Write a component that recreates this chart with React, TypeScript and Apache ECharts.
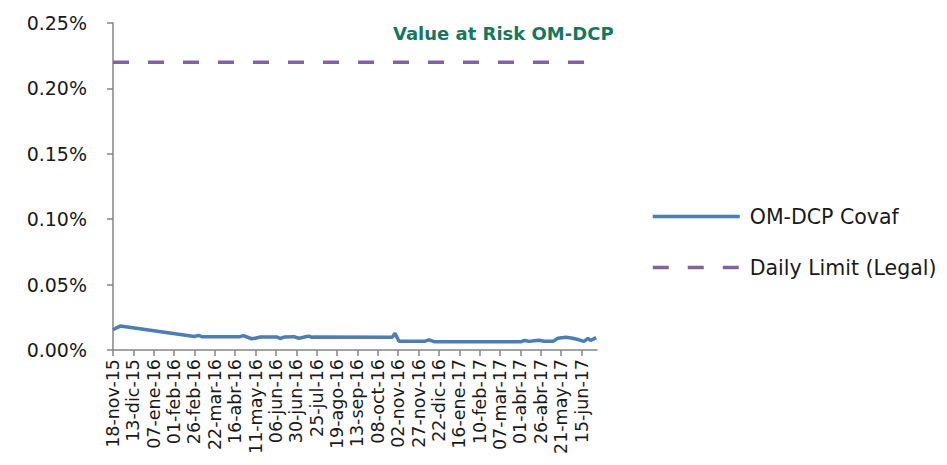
import React, { useEffect, useRef } from "react";
import * as echarts from "echarts";

const startDate = "2015-11-18";
const endDate = "2017-07-04";

const xTickLabels = [
  "18-nov-15", "13-dic-15", "07-ene-16", "01-feb-16", "26-feb-16", "22-mar-16",
  "16-abr-16", "11-may-16", "06-jun-16", "30-jun-16", "25-jul-16", "19-ago-16",
  "13-sep-16", "08-oct-16", "02-nov-16", "27-nov-16", "22-dic-16", "16-ene-17",
  "10-feb-17", "07-mar-17", "01-abr-17", "26-abr-17", "21-may-17", "15-jun-17",
];

const covafDates = [
  "2015-11-18", "2015-11-21", "2015-11-27", "2016-02-26", "2016-03-02", "2016-03-06",
  "2016-04-22", "2016-04-26", "2016-05-06", "2016-05-10", "2016-05-17", "2016-06-06",
  "2016-06-10", "2016-06-16", "2016-06-27", "2016-07-03", "2016-07-09", "2016-07-15",
  "2016-07-19", "2016-07-21", "2016-10-26", "2016-10-29", "2016-11-03", "2016-12-04",
  "2016-12-10", "2016-12-16", "2017-04-02", "2017-04-06", "2017-04-12", "2017-04-18",
  "2017-04-24", "2017-04-30", "2017-05-11", "2017-05-17", "2017-05-27", "2017-06-04",
  "2017-06-12", "2017-06-18", "2017-06-23", "2017-06-26", "2017-07-03",
];
const covafValues = [
  0.0155, 0.0165, 0.0183, 0.0103, 0.0112, 0.0102,
  0.0102, 0.011, 0.0086, 0.009, 0.01, 0.01,
  0.0088, 0.01, 0.0102, 0.009, 0.0098, 0.0106,
  0.0096, 0.0099, 0.0098, 0.0128, 0.0067, 0.0066,
  0.0078, 0.0064, 0.0064, 0.0073, 0.0066, 0.007,
  0.0074, 0.0067, 0.0066, 0.009, 0.0098, 0.009,
  0.0078, 0.0066, 0.0088, 0.0073, 0.0095,
];

const limitDates = ["2015-11-18", "2017-07-03"];
const limitValues = [0.22, 0.22];

const dayOffset = (d: string) =>
  Math.round((Date.parse(d) - Date.parse(startDate)) / 86400000);

export default function App() {
  const ref = useRef<HTMLDivElement>(null);
  useEffect(() => {
    if (!ref.current) return;
    const chart = echarts.init(ref.current, undefined, { renderer: "svg" });
    const font = "'DejaVu Sans', sans-serif";
    chart.setOption({
      animation: false,
      backgroundColor: "#ffffff",
      title: {
        text: "Value at Risk OM-DCP",
        left: 388,
        top: 19,
        textStyle: { fontFamily: font, fontSize: 18, fontWeight: "bold", color: "#17775d" },
      },
      legend: {
        orient: "vertical",
        left: 646,
        top: 201,
        itemWidth: 87,
        itemHeight: 14,
        itemGap: 30,
        itemStyle: { opacity: 0 },
        lineStyle: { width: 3.5 },
        textStyle: { fontFamily: font, fontSize: 20.5, color: "#1a1a1a", padding: [0, 0, 0, 5] },
        data: ["OM-DCP Covaf", "Daily Limit (Legal)"],
      },
      grid: { left: 113, right: 350, top: 23, bottom: 115, containLabel: false },
      xAxis: {
        type: "value",
        min: 0,
        max: dayOffset(endDate),
        interval: 25,
        splitLine: { show: false },
        axisLine: { show: true, onZero: false, lineStyle: { color: "#868686", width: 1.5 } },
        axisTick: { show: true, length: 6, lineStyle: { color: "#868686", width: 1.5 } },
        axisLabel: {
          rotate: 90,
          fontFamily: font,
          fontSize: 17.5,
          color: "#1a1a1a",
          margin: 9,
          showMaxLabel: false,
          formatter: (v: number) =>
            v % 25 === 0 ? xTickLabels[v / 25] ?? "" : "",
        },
      },
      yAxis: {
        type: "value",
        min: 0,
        max: 0.25,
        interval: 0.05,
        splitLine: { show: false },
        axisLine: { show: true, lineStyle: { color: "#868686", width: 1.5 } },
        axisTick: { show: true, length: 6, lineStyle: { color: "#868686", width: 1.5 } },
        axisLabel: {
          fontFamily: font,
          fontSize: 19,
          color: "#1a1a1a",
          margin: 26,
          formatter: (v: number) => v.toFixed(2) + "%",
        },
      },
      series: [
        {
          name: "OM-DCP Covaf",
          type: "line",
          symbol: "none",
          data: covafDates.map((d, i) => [dayOffset(d), covafValues[i]]),
          lineStyle: { color: "#4a7ebb", width: 3.5 },
          itemStyle: { color: "#4a7ebb" },
        },
        {
          name: "Daily Limit (Legal)",
          type: "line",
          symbol: "none",
          data: limitDates.map((d, i) => [dayOffset(d), limitValues[i]]),
          lineStyle: { color: "#8064a2", width: 3.5, type: [16, 19] },
          itemStyle: { color: "#8064a2" },
        },
      ],
    });
    return () => chart.dispose();
  }, []);
  return (
    <div
      ref={ref}
      style={{ position: "fixed", left: 0, top: 0, width: 947, height: 465 }}
    />
  );
}
